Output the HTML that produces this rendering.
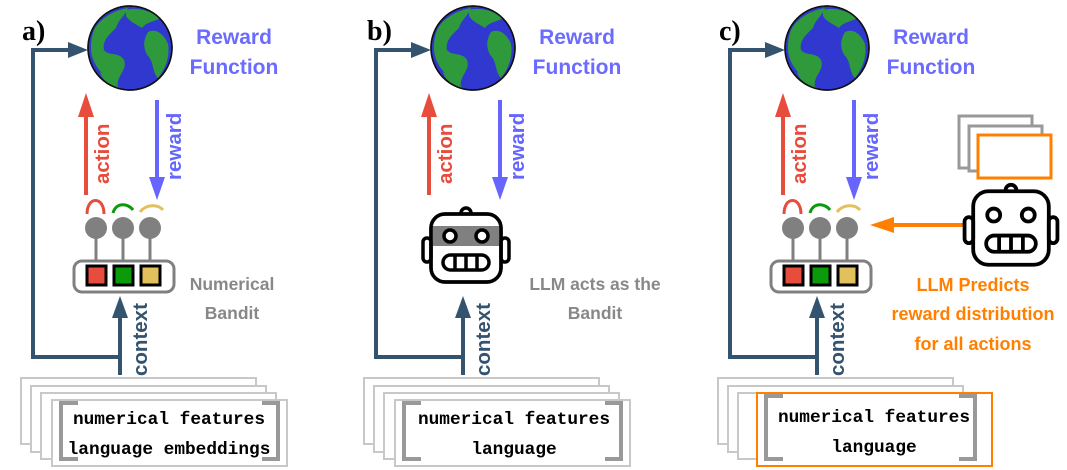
<!DOCTYPE html>
<html><head><meta charset="utf-8"><style>
html,body{margin:0;padding:0;background:#fff}
svg{display:block}
text{font-family:"Liberation Sans",sans-serif;font-weight:bold}
.mono{font-family:"Liberation Mono",monospace;font-weight:bold;font-size:17.8px}
</style></head><body>
<svg width="1067" height="470" viewBox="0 0 1067 470" xmlns="http://www.w3.org/2000/svg">
<defs>
<g id="globe">
 <circle r="42" fill="#3038d0" stroke="#111" stroke-width="1.5"/>
 <path d="M-36,-18 C-30,-30 -15,-38 -2,-40 C-5,-32 -12,-28 -14,-20 C-20,-14 -28,-8 -26,2 C-22,8 -10,4 -6,12 C-2,22 -14,28 -12,38 C-24,30 -34,22 -38,8 C-40,0 -39,-10 -36,-18Z" fill="#2e9a3c"/>
 <path d="M-4,-38 C6,-41 20,-38 30,-30 C24,-26 16,-26 12,-20 C6,-24 0,-26 -4,-32Z" fill="#2e9a3c"/>
 <path d="M18,-16 C26,-20 34,-14 38,-4 C40,8 36,20 28,30 C22,24 24,14 18,8 C14,2 12,-6 18,-16Z" fill="#2e9a3c"/>
 <path d="M-30,24 C-24,28 -18,34 -10,40 C-20,38 -28,32 -30,24Z" fill="#2e9a3c"/>
 <circle r="42" fill="none" stroke="#111" stroke-width="1.5"/>
</g>
<g id="robot" fill="none" stroke="#000" stroke-width="3.5">
 <rect x="-35" y="-34" width="70" height="68" rx="14" fill="#fff"/>
 <rect x="-43" y="-10" width="8" height="24" rx="4"/>
 <rect x="35" y="-10" width="8" height="24" rx="4"/>
 <path d="M-5,-35 a5,5 0 0 1 10,0"/>
 <rect x="-23" y="7" width="46" height="15" rx="7.5"/>
 <line x1="-11" y1="8" x2="-11" y2="21"/><line x1="0" y1="8" x2="0" y2="21"/><line x1="11" y1="8" x2="11" y2="21"/>
</g>
<g id="eyes" fill="#fff" stroke="#000" stroke-width="3.5">
 <circle cx="-16" cy="-12" r="6"/><circle cx="16" cy="-12" r="6"/>
</g>
<g id="bandit">
 <path d="M87,214 C87,196 104,196 104,214" stroke="#e74c3c" stroke-width="3" fill="none"/>
 <path d="M113,213 C116,202 128,203 133,210" stroke="#0a9a0a" stroke-width="3" fill="none"/>
 <path d="M140,212 C146,204 158,204 163,210" stroke="#e2c15c" stroke-width="3" fill="none"/>
 <g stroke="#808080" stroke-width="3"><line x1="96" y1="228" x2="96" y2="262"/><line x1="123" y1="228" x2="123" y2="262"/><line x1="150" y1="228" x2="150" y2="262"/></g>
 <g fill="#808080"><circle cx="96" cy="228" r="11"/><circle cx="123" cy="228" r="11"/><circle cx="150" cy="228" r="11"/></g>
 <rect x="74" y="261" width="100" height="31" rx="8" fill="#fff" stroke="#808080" stroke-width="3"/>
 <rect x="87" y="266" width="19" height="19" fill="#e74c3c" stroke="#000" stroke-width="3"/>
 <rect x="114" y="266" width="19" height="19" fill="#0a9a0a" stroke="#000" stroke-width="3"/>
 <rect x="141" y="266" width="19" height="19" fill="#e2c15c" stroke="#000" stroke-width="3"/>
</g>
<g id="common">
 <use href="#globe" x="130" y="48"/>
 <text x="234" y="44" font-size="21" fill="#6b6bff" text-anchor="middle">Reward</text>
 <text x="234" y="74" font-size="21" fill="#6b6bff" text-anchor="middle">Function</text>
 <path d="M120,375 V357 H33 V50 H70" stroke="#34536f" stroke-width="4" fill="none"/>
 <polygon points="88,50 68,42 68,58" fill="#34536f"/>
 <line x1="120" y1="375" x2="120" y2="316" stroke="#34536f" stroke-width="4"/>
 <polygon points="120,296 112,318 128,318" fill="#34536f"/>
 <text transform="translate(147,376) rotate(-90)" font-size="20.5" fill="#34536f">context</text>
 <line x1="86" y1="195" x2="86" y2="114" stroke="#e74c3c" stroke-width="4"/>
 <polygon points="86,93 78,117 94,117" fill="#e74c3c"/>
 <text transform="translate(109,184) rotate(-90)" font-size="20.5" fill="#e74c3c">action</text>
 <line x1="157" y1="100" x2="157" y2="180" stroke="#6666ff" stroke-width="4"/>
 <polygon points="157,200 149,177 165,177" fill="#6666ff"/>
 <text transform="translate(181,180) rotate(-90)" font-size="20.5" fill="#6666ff">reward</text>
 <g fill="#fff" stroke="#c8c8c8" stroke-width="2">
  <rect x="21" y="378" width="235" height="66"/>
  <rect x="31" y="386" width="235" height="66"/>
  <rect x="41" y="393" width="235" height="66"/>
 </g>
</g>
<g id="doc">
 <rect x="52" y="400" width="235" height="66" fill="#fff" stroke="#c8c8c8" stroke-width="2"/>
 <path d="M78,403 H61 V459 H78 M262,403 H278 V459 H262" fill="none" stroke="#999" stroke-width="4"/>
</g>
</defs>

<!-- a -->
<text x="22" y="40" font-size="28" fill="#000" style="font-family:'Liberation Serif',serif">a)</text>
<use href="#common"/>
<use href="#bandit"/>
<text x="232" y="290" font-size="17.5" fill="#888" text-anchor="middle">Numerical</text>
<text x="232" y="319" font-size="17.5" fill="#888" text-anchor="middle">Bandit</text>
<use href="#doc"/>
<text class="mono" x="169" y="424" text-anchor="middle">numerical features</text>
<text class="mono" x="169" y="454" text-anchor="middle">language embeddings</text>

<!-- b -->
<g transform="translate(343,0)">
<text x="24" y="40" font-size="28" fill="#000" style="font-family:'Liberation Serif',serif">b)</text>
<use href="#common"/>
<use href="#doc"/>
<text class="mono" x="171" y="424" text-anchor="middle">numerical features</text>
<text class="mono" x="171" y="454" text-anchor="middle">language</text>
<text x="252" y="290" font-size="17.5" fill="#888" text-anchor="middle">LLM acts as the</text>
<text x="252" y="319" font-size="17.5" fill="#888" text-anchor="middle">Bandit</text>
</g>
<g transform="translate(466,248)">
 <use href="#robot"/>
 <rect x="-33" y="-22" width="66" height="20" fill="#808080"/>
 <rect x="-35" y="-34" width="70" height="68" rx="14" fill="none" stroke="#000" stroke-width="3.5"/>
 <use href="#eyes"/>
</g>

<!-- c -->
<g transform="translate(697,0)">
<text x="22" y="40" font-size="28" fill="#000" style="font-family:'Liberation Serif',serif">c)</text>
<use href="#common"/>
<use href="#bandit"/>
<rect x="60" y="393" width="235" height="73" fill="#fff" stroke="#ff8000" stroke-width="2"/>
<path d="M86,396 H69 V459 H86 M262,396 H278 V459 H262" fill="none" stroke="#999" stroke-width="4"/>
<text class="mono" x="177" y="422" text-anchor="middle">numerical features</text>
<text class="mono" x="177" y="452" text-anchor="middle">language</text>
<text x="276" y="291" font-size="18" fill="#ff8000" text-anchor="middle">LLM Predicts</text>
<text x="276" y="320" font-size="18" fill="#ff8000" text-anchor="middle">reward distribution</text>
<text x="276" y="350" font-size="18" fill="#ff8000" text-anchor="middle">for all actions</text>
<g fill="#fff" stroke-width="3">
 <rect x="262" y="116" width="73" height="52" stroke="#999"/>
 <rect x="272" y="126" width="73" height="45" stroke="#999"/>
 <rect x="281" y="135" width="73" height="43" stroke="#ff8000"/>
</g>
<line x1="266" y1="225" x2="193" y2="225" stroke="#ff8000" stroke-width="4"/>
<polygon points="173,225 197,217 197,233" fill="#ff8000"/>
</g>
<g transform="translate(1011,228) scale(1.08)">
 <use href="#robot"/>
 <use href="#eyes"/>
</g>
</svg>
</body></html>
